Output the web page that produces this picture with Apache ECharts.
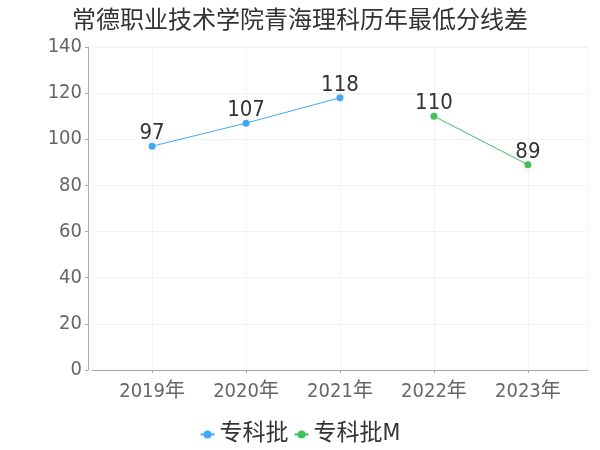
<!DOCTYPE html>
<html>
<head>
<meta charset="utf-8">
<script src="https://cdn.jsdelivr.net/npm/echarts@6/dist/echarts.min.js"></script>
<style>html,body{margin:0;padding:0;background:#fff;}#c{width:600px;height:450px;}</style>
</head>
<body>
<div id="c"></div>
<script>
var titleText = '常德职业技术学院青海理科历年最低分线差';
var years = [2019, 2020, 2021, 2022, 2023];
var seriesNames = ['专科批', '专科批M'];
var years1 = [2019, 2020, 2021];
var values1 = [97, 107, 118];
var years2 = [2022, 2023];
var values2 = [110, 89];
var yTicks = [0, 20, 40, 60, 80, 100, 120, 140];

function pairs(xs, vs) { return xs.map(function (x, i) { return [x, vs[i]]; }); }

var font = '"DejaVu Sans Condensed", "Noto Sans CJK SC", sans-serif';
var chart = echarts.init(document.getElementById('c'), null, { renderer: 'canvas' });
chart.setOption({
  animation: false,
  backgroundColor: '#fff',
  title: {
    text: titleText, left: 'center', top: 5,
    textStyle: { fontSize: 24, fontWeight: 'normal', color: '#333', fontFamily: font }
  },
  legend: {
    top: 418, left: 'center',
    itemWidth: 14, itemHeight: 10, itemGap: 5,
    textStyle: { fontSize: 23, color: '#333', fontFamily: font },
    data: seriesNames
  },
  grid: { left: 92, right: 12, top: 47, bottom: 80, show: true, borderColor: '#f2f2f2', borderWidth: 1 },
  xAxis: {
    type: 'value',
    min: years[0] - 0.64,
    max: years[years.length - 1] + 0.64,
    offset: 3,
    axisLine: { show: true, lineStyle: { color: '#aaa' } },
    axisTick: { show: true, length: 3, customValues: years, lineStyle: { color: '#aaa' } },
    axisLabel: {
      customValues: years, fontSize: 20, color: '#666', fontFamily: font, margin: 9,
      formatter: function (v) { return v + '年'; }
    },
    splitLine: { show: true, lineStyle: { color: '#f3f3f3' } }
  },
  yAxis: {
    type: 'value', min: yTicks[0], max: yTicks[yTicks.length - 1], interval: 20,
    offset: 4,
    axisLine: { show: true, lineStyle: { color: '#aaa' } },
    axisTick: { show: true, length: 3, lineStyle: { color: '#aaa' } },
    axisLabel: { fontSize: 20, color: '#666', fontFamily: font, margin: 6 },
    splitLine: { show: true, lineStyle: { color: '#f3f3f3' } }
  },
  series: [
    {
      name: seriesNames[0], type: 'line', data: pairs(years1, values1),
      symbol: 'circle', symbolSize: 7,
      itemStyle: { color: '#40a9f7' }, lineStyle: { width: 1, color: '#40a9f7' },
      label: { show: true, position: 'top', fontSize: 22, color: '#333', fontFamily: font, distance: -2 }
    },
    {
      name: seriesNames[1], type: 'line', data: pairs(years2, values2),
      symbol: 'circle', symbolSize: 7,
      itemStyle: { color: '#42c15b' }, lineStyle: { width: 1, color: '#42c15b' },
      label: { show: true, position: 'top', fontSize: 22, color: '#333', fontFamily: font, distance: -2 }
    }
  ]
});
</script>
</body>
</html>
